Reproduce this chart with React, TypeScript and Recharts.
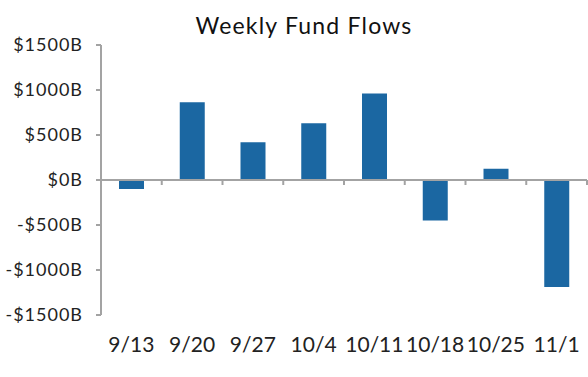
import { BarChart, Bar, XAxis, YAxis, ReferenceLine } from 'recharts';

const weeks = ['9/13', '9/20', '9/27', '10/4', '10/11', '10/18', '10/25', '11/1'];
const flows = [-100, 865, 420, 630, 960, -450, 125, -1190];
const yTicks = [-1500, -1000, -500, 0, 500, 1000, 1500];

const data = weeks.map((week, i) => ({ week, flow: flows[i] }));

const AXIS = '#a3a3a3';
const BAR = '#1b67a2';
const FONT = 'Lato, sans-serif';

const fmt = (v: number) => (v < 0 ? `-$${Math.abs(v)}B` : `$${v}B`);

// small down tick on the zero line at each category boundary
const TickMark = (p: any) => (
    <line x1={p.x1} y1={p.y1} x2={p.x1} y2={p.y1 + 5} stroke={AXIS} strokeWidth={2} />
);

export default function App() {
    return (
        <div style={{ position: 'absolute', left: 0, top: 0, width: 588, height: 377, background: '#fff' }}>
            <div
                style={{
                    position: 'absolute',
                    left: 0,
                    width: 608,
                    top: 12,
                    textAlign: 'center',
                    fontFamily: FONT,
                    fontSize: 23,
                    letterSpacing: 1.2,
                    lineHeight: '26px',
                    color: '#111',
                }}
            >
                Weekly Fund Flows
            </div>
            <BarChart
                width={588}
                height={377}
                data={data}
                margin={{ top: 45, right: 1, left: 0, bottom: 0 }}
            >
                <XAxis
                    dataKey="week"
                    height={62}
                    axisLine={false}
                    tickLine={false}
                    tickSize={0}
                    tickMargin={22}
                    interval={0}
                    tick={{ fill: '#222', fontSize: 21, fontFamily: FONT }}
                />
                <YAxis
                    width={101}
                    domain={[-1500, 1500]}
                    ticks={yTicks}
                    tickFormatter={fmt}
                    axisLine={{ stroke: AXIS, strokeWidth: 2 }}
                    tickLine={{ stroke: AXIS, strokeWidth: 2 }}
                    tickSize={5}
                    tickMargin={13}
                    tick={{ fill: '#222', fontSize: 18, fontFamily: FONT, letterSpacing: 1 }}
                />
                <Bar dataKey="flow" fill={BAR} barSize={25} isAnimationActive={false} />
                <ReferenceLine y={0} stroke={AXIS} strokeWidth={2} ifOverflow="visible" />
                {weeks.map((w) => (
                    <ReferenceLine
                        key={w}
                        segment={[{ x: w, y: 0 }, { x: w, y: 0 }]}
                        position="end"
                        ifOverflow="visible"
                        shape={TickMark}
                    />
                ))}
            </BarChart>
        </div>
    );
}
